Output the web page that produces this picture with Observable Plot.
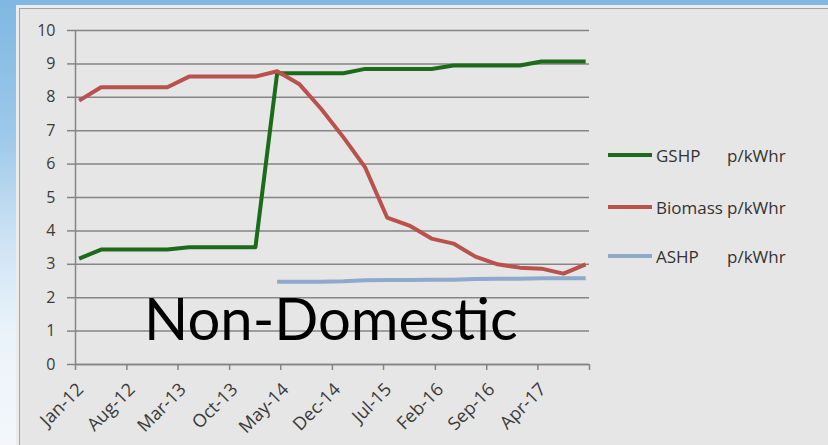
<!DOCTYPE html>
<html>
<head>
<meta charset="utf-8">
<script src="https://cdn.jsdelivr.net/npm/d3@7"></script>
<script src="https://cdn.jsdelivr.net/npm/@observablehq/plot@0.6"></script>
<style>
  html, body { margin: 0; padding: 0; background: #ffffff; }
  #stage { position: relative; width: 828px; height: 445px; overflow: hidden;
    background: linear-gradient(to bottom, #7fb8e2 0%, #9cc8ea 30%, #cfe4f5 55%, #eaf3fa 75%, #f3f7fb 100%); }
  #sheet { position: absolute; left: 16px; top: 5px; right: 0; bottom: 0; background: #ececec; }
  #area { position: absolute; left: 19px; top: 8px; right: 0; bottom: 0; background: #e6e6e6;
    border-left: 1.5px solid #a2a2a2; border-top: 1.5px solid #a2a2a2; }
  #chart { position: absolute; left: 0; top: 0; }
  #legend { position: absolute; left: 608px; top: 0; font-family: "Open Sans", sans-serif; font-size: 17px; color: #333; }
  .row { position: absolute; left: 0; display: flex; align-items: center; white-space: nowrap; height: 24px; margin-top: -12px; }
  .swatch { width: 44px; height: 4px; margin-right: 4px; }
  .name { display: inline-block; min-width: 71px; }
</style>
</head>
<body>
<div id="stage">
  <div id="sheet"></div>
  <div id="area"></div>
  <div id="chart"></div>
  <div id="legend"></div>
</div>
<script>
// Quarterly tariff readings, pence per kWh
const quarters = ["Jan-12","Apr-12","Jul-12","Oct-12","Jan-13","Apr-13","Jul-13","Oct-13",
                  "Jan-14","Apr-14","Jul-14","Oct-14","Jan-15","Apr-15","Jul-15","Oct-15",
                  "Jan-16","Apr-16","Jul-16","Oct-16","Jan-17","Apr-17","Jul-17","Oct-17"];
const gshp    = [3.17,3.44,3.44,3.44,3.44,3.51,3.51,3.51,3.51,8.72,8.72,8.72,
                 8.72,8.85,8.85,8.85,8.85,8.95,8.95,8.95,8.95,9.07,9.07,9.07];
const biomass = [7.9,8.3,8.3,8.3,8.3,8.62,8.62,8.62,8.62,8.78,8.4,7.65,
                 6.8,5.9,4.4,4.16,3.77,3.62,3.23,3.0,2.9,2.87,2.72,3.0];
const ashp    = [null,null,null,null,null,null,null,null,null,2.48,2.48,2.48,
                 2.49,2.52,2.53,2.53,2.54,2.54,2.56,2.57,2.57,2.58,2.58,2.58];

const seriesNames = ["GSHP", "Biomass", "ASHP"];
const seriesUnit = "p/kWhr";
const seriesColors = ["#1b6b1b", "#b9524c", "#8ea9cb"];

// Axis ticks every seven months; the last tick closes the axis without a label
const tickLabels = ["Jan-12","Aug-12","Mar-13","Oct-13","May-14","Dec-14","Jul-15","Feb-16","Sep-16","Apr-17"];
const axisEnd = "Nov-17";
const yTicks = [0,1,2,3,4,5,6,7,8,9,10];
const annotation = "Non-Domestic";

const parse = d3.utcParse("%b-%y");
const midMonth = (s) => d3.utcDay.offset(parse(s), 15);

const columns = [gshp, biomass, ashp];
const rows = [];
seriesNames.forEach((name, k) => {
  quarters.forEach((q, i) => {
    const v = columns[k][i];
    if (v != null) rows.push({series: name, date: midMonth(q), value: v});
  });
});

const tickDates = [...tickLabels, axisEnd].map(parse);
const labelOf = new Map(tickLabels.map(l => [+parse(l), l]));
const grey = "#858585";
const ink = "#3a3a3a";

const chart = Plot.plot({
  width: 828,
  height: 445,
  marginLeft: 75,
  marginRight: 239,
  marginTop: 30,
  marginBottom: 81,
  style: {background: "transparent", fontFamily: "'Open Sans', sans-serif", fontSize: "16px", color: ink},
  x: {type: "utc", domain: [parse(tickLabels[0]), parse(axisEnd)]},
  y: {domain: [0, 10]},
  color: {domain: seriesNames, range: seriesColors},
  marks: [
    Plot.gridY(yTicks, {stroke: grey, strokeOpacity: 1, strokeWidth: 1.5}),
    Plot.axisY(yTicks, {tickSize: 8, tickPadding: 12, stroke: grey, strokeWidth: 1.5, fill: ink,
      fontSize: 16, label: null}),
    Plot.ruleX([parse(tickLabels[0])], {stroke: grey, strokeWidth: 1.5}),
    Plot.ruleY([0], {stroke: grey, strokeWidth: 1.5}),
    // tick marks only
    Plot.axisX(tickDates, {tickSize: 6, stroke: grey, strokeWidth: 1.5, label: null, tickFormat: () => ""}),
    // rotated labels, hung from the top-right corner just past each tick
    Plot.axisX(tickDates, {tickSize: 0, tickPadding: 22, tickRotate: -45, stroke: "none",
      fill: ink, fontSize: 18, dx: 5, label: null, tickFormat: d => labelOf.get(+d) ?? ""}),
    Plot.line(rows, {x: "date", y: "value", z: "series", stroke: "series", strokeWidth: 4,
      strokeLinejoin: "round", strokeLinecap: "butt"}),
    Plot.text([annotation], {x: parse("Nov-12"), y: 0.72, text: d => d, textAnchor: "start",
      lineAnchor: "bottom", fontSize: 58, fontFamily: "Lato, sans-serif", fill: "#000", dx: -5})
  ]
});
document.getElementById("chart").appendChild(chart);

// Legend beside the plot, one entry per series
const legend = document.getElementById("legend");
const legendRows = [155, 207, 256];
seriesNames.forEach((name, k) => {
  const row = document.createElement("div");
  row.className = "row";
  row.style.top = legendRows[k] + "px";
  row.innerHTML = `<span class="swatch" style="background:${seriesColors[k]}"></span>` +
                  `<span class="name">${name}</span><span>${seriesUnit}</span>`;
  legend.appendChild(row);
});
</script>
</body>
</html>
